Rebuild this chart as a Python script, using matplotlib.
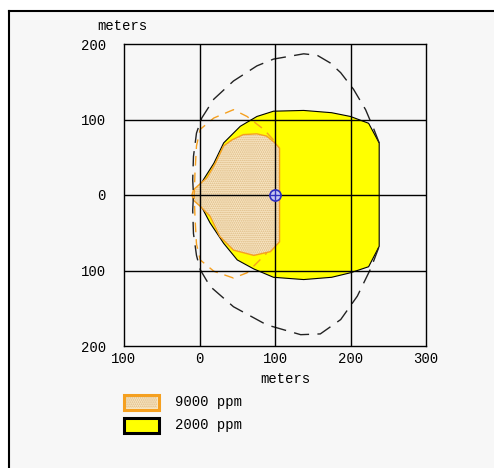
import matplotlib
matplotlib.use("Agg")
import matplotlib.pyplot as plt
from matplotlib.patches import Polygon, Rectangle
from matplotlib.lines import Line2D
from matplotlib.ticker import FuncFormatter

plt.rcParams['font.family'] = ['Liberation Mono', 'DejaVu Sans Mono']
plt.rcParams['hatch.linewidth'] = 0.8

# 2000 ppm footprint (solid yellow)
x2000 = [0, 1, 5, 19, 32, 54, 76, 98, 138, 175, 200, 224, 238,
         238, 224, 200, 175, 138, 98, 72, 50, 32, 14, 5, 1]
y2000 = [0, 12, 20, 42, 69, 91, 104, 111, 112, 109, 104, 95, 69,
         -68, -95, -103, -109, -112, -109, -98, -86, -64, -37, -20, -12]

# 9000 ppm footprint (dotted tan)
x9000 = [-10, -8, 1, 10, 21, 32, 43, 58, 76, 89, 100, 106,
         106, 94, 72, 45, 27, 14, 1, -8]
y9000 = [0, 7, 15, 23, 42, 65, 73, 80, 81, 78, 69, 62,
         -62, -75, -80, -73, -55, -28, -15, -7]

# 9000 ppm confidence line (orange dashed)
x9000c = [98, 85, 63, 45, 19, 1, -4, -6, -7, -6, -4, 1, 19, 45, 63, 89]
y9000c = [73, 87, 104, 113, 102, 87, 65, 29, 0, -29, -65, -86, -101, -110, -103, -77]

# 2000 ppm confidence line (black dashed)
x2000c = [238, 231, 220, 204, 187, 173, 156, 138, 98, 76, 45, 19, 3, -4, -8, -9, -8,
          -9, -8, -4, 1, 14, 45, 89, 134, 160, 187, 209, 227, 238]
y2000c = [69, 87, 113, 140, 162, 175, 185, 187, 180, 171, 151, 127, 102, 82, 51, 20, 0,
          -20, -51, -80, -99, -121, -148, -172, -185, -184, -165, -134, -97, -68]

src_x, src_y = 100, 0
ticks = [-100, 0, 100, 200, 300]
yticks = [-200, -100, 0, 100, 200]
labels = ['9000 ppm', '2000 ppm']

bg = '#f7f7f7'
yellow = '#ffff00'
orange = '#f5a020'
tan = '#f8e6c4'
dots = '#dcb880'

fig = plt.figure(figsize=(4.94, 4.68), dpi=100, facecolor='white')
fig.add_artist(Rectangle((8/494, 0), 1, 1 - 10/468, transform=fig.transFigure,
                         facecolor=bg, edgecolor='none', zorder=-5))
fig.add_artist(Line2D([9/494, 1], [1 - 11/468, 1 - 11/468], color='black', lw=1.5,
                      transform=fig.transFigure))
fig.add_artist(Line2D([9/494, 9/494], [0, 1 - 11/468], color='black', lw=1.5,
                      transform=fig.transFigure))

ax = fig.add_axes([124/494, 1 - 346/468, 302/494, 302/468])
ax.set_facecolor(bg)
ax.set_xlim(-100, 300)
ax.set_ylim(-200, 200)
ax.set_xticks(ticks)
ax.set_yticks(yticks)
fmt = FuncFormatter(lambda v, p: '%d' % abs(v))
ax.xaxis.set_major_formatter(fmt)
ax.yaxis.set_major_formatter(fmt)
ax.tick_params(length=0, labelsize=10)
ax.tick_params(axis='y', pad=13)
ax.tick_params(axis='x', pad=4)
for s in ax.spines.values():
    s.set_linewidth(1)

ax.add_patch(Polygon(list(zip(x2000, y2000)), closed=True, facecolor=yellow,
                     edgecolor='black', lw=0.8, zorder=3))
ax.add_patch(Polygon(list(zip(x9000, y9000)), closed=True, facecolor=tan,
                     edgecolor=dots, hatch='........', lw=0, zorder=4))
ax.add_patch(Polygon(list(zip(x9000, y9000)), closed=True, facecolor='none',
                     edgecolor=orange, lw=1.0, zorder=5))
ax.plot(x9000c, y9000c, color=orange, lw=1, dashes=(7, 5), zorder=5)
ax.plot(x2000c, y2000c, color='#222222', lw=1, dashes=(11, 6), zorder=5)

# grid drawn above the footprints
for gx in ticks[1:-1]:
    ax.axvline(gx, color='black', lw=1, zorder=6)
for gy in yticks[1:-1]:
    ax.axhline(gy, color='black', lw=1, zorder=6)

ax.plot(src_x, src_y, 'o', ms=8, mfc='#c8c8f0', mec='#3030c0', mew=1.2, zorder=7)
ax.plot(src_x, src_y, '+', ms=8, color='#3030c0', mew=1, zorder=8)

fig.text(97/494, 1 - 26/468, 'meters', fontsize=10, va='center', ha='left')
fig.text(285/494, 1 - 379/468, 'meters', fontsize=10, va='center', ha='center')

# legend
fig.add_artist(Rectangle((124/494, 1 - 410/468), 35/494, 15/468, transform=fig.transFigure,
                         facecolor=tan, edgecolor=orange, lw=2.2))
fig.add_artist(Rectangle((126/494, 1 - 408/468), 31/494, 11/468, transform=fig.transFigure,
                         facecolor='none', edgecolor=dots, lw=0, hatch='........'))
fig.add_artist(Rectangle((124/494, 1 - 433/468), 35/494, 15/468, transform=fig.transFigure,
                         facecolor=yellow, edgecolor='black', lw=2.2))
fig.text(175/494, 1 - 402/468, labels[0], fontsize=10, va='center')
fig.text(175/494, 1 - 425/468, labels[1], fontsize=10, va='center')

fig.savefig('out.png', dpi=100, facecolor='white')
